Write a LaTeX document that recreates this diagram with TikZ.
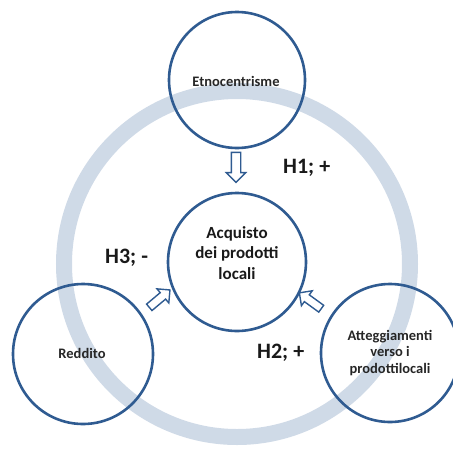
\documentclass[tikz,border=0pt]{standalone}
\usepackage{fontspec}
\setmainfont{Carlito}
\usetikzlibrary{shapes.arrows}
\definecolor{ringc}{HTML}{CFDAE7}
\definecolor{circc}{HTML}{2F5B91}
\tikzset{
  bigcirc/.style={circle, draw=circc, line width=2.6pt, inner sep=0pt},
  smalltxt/.style={font=\bfseries\fontsize{14.5}{16.5}\selectfont, align=center, text=black!85},
  hlabel/.style={font=\bfseries\fontsize{22}{24}\selectfont, inner sep=0pt, text=black!90},
  barrow/.style={single arrow, draw=circc, fill=white, line width=1.4pt, inner sep=0pt, minimum width=#1, single arrow head extend=5pt},
}
\begin{document}
\begin{tikzpicture}[x=1pt,y=-1pt]
\useasboundingbox (0,0) rectangle (453,448);
% ring
\draw[ringc, line width=16pt] (237,264) circle[radius=173];
% circles
\node[bigcirc, minimum size=136pt] (top) at (237,80) {};
\node[bigcirc, minimum size=138pt] (ctr) at (237,262) {};
\node[bigcirc, minimum size=140pt] (left) at (83,354) {};
\node[bigcirc, minimum size=138pt] (right) at (390,353) {};
% labels in circles
\node[smalltxt] (ttop) at (236,81) {Etnocentrisme};
\node[font=\bfseries\fontsize{17}{20.5}\selectfont, align=center, text=black!90] (tctr) at (237,253) {Acquisto\\dei prodotti\\locali};
\node[smalltxt] (tleft) at (82,353) {Reddito};
\node[smalltxt] (tright) at (390,353) {Atteggiamenti\\verso i\\prodottilocali};
% arrows
\node[barrow=9pt, minimum height=30pt, rotate=-90, inner ysep=4pt] (a1) at (236,165) {};
\node[barrow=9pt, minimum height=27pt, rotate=40, inner ysep=3.5pt] (a3) at (158,300) {};
\node[barrow=9pt, minimum height=27pt, rotate=144, inner ysep=3.5pt] (a2) at (312,302) {};
% hypotheses
\node[hlabel, anchor=west] (h1) at (283,168) {H1; +};
\node[hlabel, anchor=west] (h3) at (105,258) {H3; -};
\node[hlabel, anchor=west] (h2) at (257,353) {H2; +};
\end{tikzpicture}
\end{document}
